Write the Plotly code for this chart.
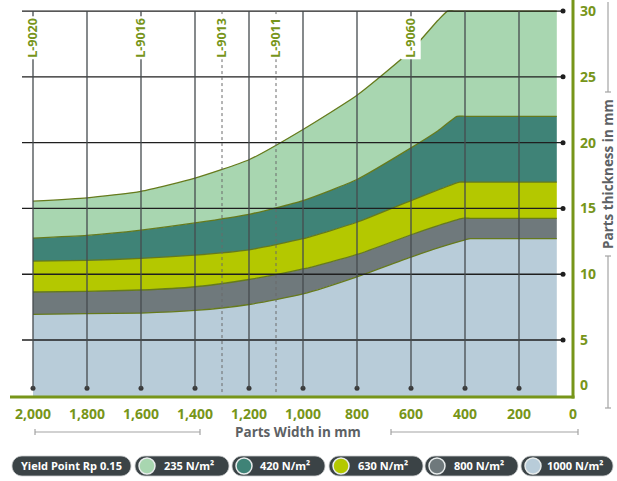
import plotly.graph_objects as go

# ---------------- data ----------------
width_ticks = [2000, 1800, 1600, 1400, 1200, 1000, 800, 600, 400, 200, 0]
width_tick_text = ["2,000", "1,800", "1,600", "1,400", "1,200", "1,000", "800", "600", "400", "200", "0"]
grid_widths = [2000, 1800, 1600, 1400, 1200, 1000, 800, 600, 400, 200]
thick_ticks = [30, 25, 20, 15, 10, 5, 1.6]
thick_tick_text = ["30", "25", "20", "15", "10", "5", "0"]
grid_thick = [30, 25, 20, 15, 10, 5]

# upper boundary of each yield-point band (thickness in mm vs width in mm)
x_235 = [2000, 1800, 1600, 1400, 1200, 1000, 800, 600, 500, 465, 440, 60]
y_235 = [15.55, 15.8, 16.3, 17.3, 18.7, 21.0, 23.6, 27.0, 29.3, 30.0, 30.0, 30.0]
x_420 = [2000, 1800, 1600, 1400, 1200, 1000, 800, 600, 500, 430, 400, 60]
y_420 = [12.75, 12.95, 13.35, 13.9, 14.55, 15.6, 17.2, 19.6, 20.9, 22.0, 22.0, 22.0]
x_630 = [2000, 1800, 1600, 1400, 1200, 1000, 800, 600, 500, 420, 390, 60]
y_630 = [11.0, 11.05, 11.2, 11.45, 11.85, 12.7, 13.95, 15.6, 16.4, 17.0, 17.0, 17.0]
x_800 = [2000, 1800, 1600, 1400, 1200, 1000, 800, 600, 500, 410, 380, 60]
y_800 = [8.65, 8.7, 8.8, 9.05, 9.6, 10.4, 11.5, 13.0, 13.7, 14.25, 14.25, 14.25]
x_1000 = [2000, 1800, 1600, 1400, 1200, 1000, 800, 600, 500, 380, 350, 60]
y_1000 = [6.95, 7.0, 7.05, 7.25, 7.7, 8.5, 9.8, 11.3, 12.0, 12.7, 12.7, 12.7]

band_names = ["235 N/m²", "420 N/m²", "630 N/m²", "800 N/m²", "1000 N/m²"]
band_colors = ["#a8d6b0", "#3f8377", "#b4c800", "#6f797c", "#b8ccd9"]

profile_names = ["L-9020", "L-9016", "L-9013", "L-9011", "L-9060"]
profile_widths = [2000, 1600, 1300, 1100, 600]
dotted_widths = [1300, 1100]

# ---------------- styling ----------------
OLIVE = "#77951a"
EDGE = "#667a1c"
FONT = "Open Sans"
W, H = 617, 481
ML, MR, MT, MB = 22, 44, 0, 84
PW, PH = W - ML - MR, H - MT - MB


def px(xp):
    return (xp - ML) / PW


def py(yp):
    return (MT + PH - yp) / PH


fig = go.Figure()

series = [(x_1000, y_1000), (x_800, y_800), (x_630, y_630), (x_420, y_420), (x_235, y_235)]
colors_bottom_up = band_colors[::-1]
names_bottom_up = band_names[::-1]
for i, ((xs, ys), col, nm) in enumerate(zip(series, colors_bottom_up, names_bottom_up)):
    fig.add_trace(go.Scatter(
        x=xs, y=ys, mode="lines", name=nm,
        line=dict(color=EDGE, width=1.3, shape="spline", smoothing=0.5),
        fill="tozeroy" if i == 0 else "tonexty",
        fillcolor=col, hoverinfo="skip",
    ))

shapes = []
x_left = 2000 + (33 - ML) / 0.27
for v in grid_thick:
    shapes.append(dict(type="line", xref="x", yref="y", x0=x_left, x1=37, y0=v, y1=v,
                       line=dict(color="#1f1f1f", width=1.3), layer="above"))
for v in grid_widths:
    shapes.append(dict(type="line", xref="x", yref="y", x0=v, x1=v, y0=30, y1=1.34,
                       line=dict(color="#454b4e", width=1.3), layer="above"))
for v in dotted_widths:
    shapes.append(dict(type="line", xref="x", yref="y", x0=v, x1=v, y0=30, y1=1.0,
                       line=dict(color="#6a6a6a", width=1, dash="dot"), layer="above"))
shapes.append(dict(type="line", xref="paper", yref="paper", x0=px(10), x1=px(574.5), y0=py(397), y1=py(397),
                   line=dict(color=OLIVE, width=3)))
shapes.append(dict(type="line", xref="paper", yref="paper", x0=px(573), x1=px(573), y0=py(398.5), y1=py(0),
                   line=dict(color=OLIVE, width=3)))
BR = "#a3a3a3"
for (a, b) in [(35, 200), (391, 578)]:
    shapes.append(dict(type="line", xref="paper", yref="paper", x0=px(a), x1=px(b), y0=py(432), y1=py(432),
                       line=dict(color=BR, width=1.2)))
    for e in (a, b):
        shapes.append(dict(type="line", xref="paper", yref="paper", x0=px(e), x1=px(e), y0=py(429), y1=py(435),
                           line=dict(color=BR, width=1.2)))
for (a, b) in [(2, 92), (256, 408)]:
    shapes.append(dict(type="line", xref="paper", yref="paper", x0=px(608), x1=px(608), y0=py(a), y1=py(b),
                       line=dict(color=BR, width=1.2)))
    for e in (a, b):
        if e > 3:
            shapes.append(dict(type="line", xref="paper", yref="paper", x0=px(605), x1=px(611), y0=py(e), y1=py(e),
                               line=dict(color=BR, width=1.2)))


def pill(x0p, x1p, ycp, h=20, color="#3b4346"):
    r = h / 2
    k = 0.5523 * r
    X0, X1 = x0p - ML, x1p - ML
    Yc = (MT + PH) - ycp
    T, B = Yc + r, Yc - r
    path = (f"M {X0 + r},{B} L {X1 - r},{B} "
            f"C {X1 - r + k},{B} {X1},{Yc - k} {X1},{Yc} "
            f"C {X1},{Yc + k} {X1 - r + k},{T} {X1 - r},{T} "
            f"L {X0 + r},{T} "
            f"C {X0 + r - k},{T} {X0},{Yc + k} {X0},{Yc} "
            f"C {X0},{Yc - k} {X0 + r - k},{B} {X0 + r},{B} Z")
    return dict(type="path", xref="paper", yref="paper", xsizemode="pixel", ysizemode="pixel",
                xanchor=0, yanchor=0, path=path, fillcolor=color,
                line=dict(color="#c9cccd", width=0.8), layer="above")


def circ(cx, cy, r, color):
    X, Y = cx - ML, (MT + PH) - cy
    return dict(type="circle", xref="paper", yref="paper", xsizemode="pixel", ysizemode="pixel",
                xanchor=0, yanchor=0, x0=X - r, x1=X + r, y0=Y - r, y1=Y + r,
                fillcolor=color, line=dict(color="#e8ecec", width=1.5), layer="above")


LEG_Y = 466
pills = [(12, 131), (135, 229), (232, 325), (329, 423), (425, 518), (521, 613)]
text_cx = [71, 189, 285, 383, 479, 575]
for (a, b) in pills:
    shapes.append(pill(a, b, LEG_Y))
for (a, b), col in zip(pills[1:], band_colors):
    shapes.append(circ(a + 12, LEG_Y, 8, col))

annotations = []
leg_texts = ["Yield Point Rp 0.15"] + band_names
for t, cx in zip(leg_texts, text_cx):
    annotations.append(dict(text=f"<b>{t}</b>", xref="paper", yref="paper", x=px(cx), y=py(LEG_Y),
                            xanchor="center", yanchor="middle", showarrow=False,
                            font=dict(family=FONT, size=11, color="white")))

for nm, xv in zip(profile_names, profile_widths):
    annotations.append(dict(text=f"<b>{nm}</b>", x=xv, y=27.97, xref="x", yref="y", textangle=-90,
                            showarrow=False, bgcolor="white", borderpad=1,
                            font=dict(family=FONT, size=12.5, color=OLIVE)))

annotations.append(dict(text="<b>Parts Width in mm</b>", xref="paper", yref="paper", x=px(298), y=py(432),
                        xanchor="center", yanchor="middle", showarrow=False,
                        font=dict(family=FONT, size=13.5, color="#5d6164")))
annotations.append(dict(text="<b>Parts thickness in mm</b>", xref="paper", yref="paper", x=px(608), y=py(174),
                        xanchor="center", yanchor="middle", showarrow=False, textangle=-90, bgcolor="white",
                        font=dict(family=FONT, size=13.5, color="#5d6164")))

fig.add_trace(go.Scatter(x=[37] * len(grid_thick), y=grid_thick, mode="markers",
                         marker=dict(color="#1f1f1f", size=5), hoverinfo="skip", cliponaxis=False))
fig.add_trace(go.Scatter(x=grid_widths, y=[1.34] * len(grid_widths), mode="markers",
                         marker=dict(color="#3a3a3a", size=5), hoverinfo="skip", cliponaxis=False))

fig.update_layout(
    width=W, height=H, margin=dict(l=ML, r=MR, t=MT, b=MB, autoexpand=False),
    plot_bgcolor="white", paper_bgcolor="white", showlegend=False,
    shapes=shapes, annotations=annotations,
    xaxis=dict(range=[x_left, 0], autorange=False, automargin=False, showgrid=False, zeroline=False,
               showline=False, tickvals=width_ticks, ticktext=width_tick_text, ticks="",
               ticklabelstandoff=7,
               tickfont=dict(family=FONT, size=14, color=OLIVE, weight="bold")),
    yaxis=dict(range=[0.67, 30.84], autorange=False, automargin=False, side="right", showgrid=False,
               zeroline=False, showline=False, tickvals=thick_ticks, ticktext=thick_tick_text, ticks="",
               ticklabelstandoff=6,
               tickfont=dict(family=FONT, size=14, color=OLIVE, weight="bold")),
)

fig.write_html("out.html", config={"displayModeBar": False},
               post_script="document.body.style.margin='0';document.body.style.overflow='hidden';")
